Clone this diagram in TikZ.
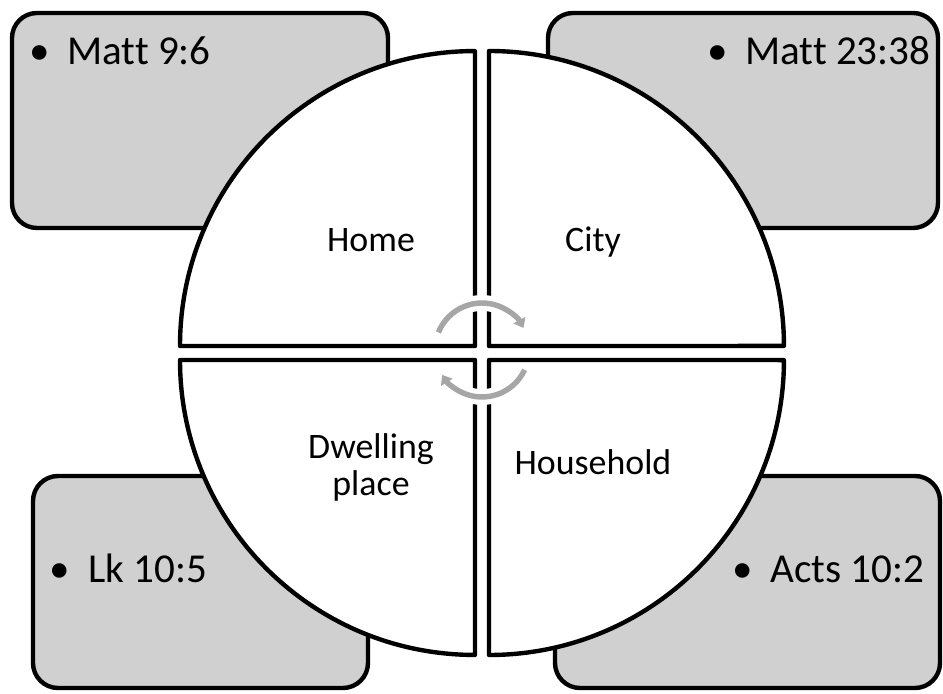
\documentclass[tikz,border=0pt]{standalone}
\usepackage{fontspec}
\setmainfont{Carlito}[Ligatures=NoCommon]
\usetikzlibrary{arrows.meta}
\definecolor{boxfill}{RGB}{208,208,208}
\definecolor{cyclegray}{RGB}{166,166,166}
\begin{document}
\begin{tikzpicture}[x=0.02cm,y=0.02cm,
  outline/.style={line width=2.5pt, line join=round},
  refbox/.style={outline, draw=black, fill=boxfill, rounded corners=0.5cm},
  quarter/.style={outline, draw=black, fill=white},
  reftext/.style={inner sep=0pt, font=\fontsize{23.4}{28}\selectfont, anchor=base west},
  bulletmark/.style={inner sep=0pt, font=\fontsize{23.4}{28}\selectfont, anchor=base},
  quadlabel/.style={inner sep=0pt, font=\fontsize{20.4}{21}\selectfont, align=center},
  arrowhalo/.style={draw=white, line width=9pt},
  cyclearrow/.style={draw=cyclegray, line width=3.1pt, -{Triangle[length=5pt,width=7.5pt]}}
]
\useasboundingbox (0,0) rectangle (943,693);

% reference boxes
\draw[refbox] (12,465) rectangle (388,680);
\draw[refbox] (548,465) rectangle (938,680);
\draw[refbox] (33,5) rectangle (368,217);
\draw[refbox] (555,5) rectangle (940,217);

% quarter discs
\draw[quarter] (475,347) -- (180,347) arc[start angle=180,end angle=90,radius=5.9cm] -- cycle;
\draw[quarter] (489,347) -- (489,642) arc[start angle=90,end angle=0,radius=5.9cm] -- cycle;
\draw[quarter] (475,333) -- (180,333) arc[start angle=180,end angle=270,radius=5.9cm] -- cycle;
\draw[quarter] (489,333) -- (489,38) arc[start angle=270,end angle=360,radius=5.9cm] -- cycle;

% quarter labels
\node[quadlabel, anchor=base] (home) at (371,441) {Home};
\node[quadlabel, anchor=base] (city) at (593,441) {City};
\node[quadlabel] (dwell) at (371,226) {Dwelling\\place};
\node[quadlabel, anchor=base] (house) at (593,218) {Household};

% cycle arrows
\draw[arrowhalo] (482,343) ++(120:0.94cm) arc[start angle=120,end angle=60,radius=0.94cm];
\draw[arrowhalo] (482,343) ++(-60:0.94cm) arc[start angle=-60,end angle=-120,radius=0.94cm];
\draw[cyclearrow] (482,343) ++(158:0.94cm) arc[start angle=158,end angle=28,radius=0.94cm];
\draw[cyclearrow] (482,343) ++(-25:0.94cm) arc[start angle=-25,end angle=-148,radius=0.94cm];

% box texts
\node[bulletmark] (b1) at (40,628) {•};
\node[reftext] (t1) at (67,628) {Matt 9:6};
\node[bulletmark] (b2) at (718,628) {•};
\node[reftext] (t2) at (745,628) {Matt 23:38};
\node[bulletmark] (b3) at (60,110) {•};
\node[reftext] (t3) at (88,110) {Lk 10:5};
\node[bulletmark] (b4) at (743,110) {•};
\node[reftext] (t4) at (770,110) {Acts 10:2};
\end{tikzpicture}
\end{document}
